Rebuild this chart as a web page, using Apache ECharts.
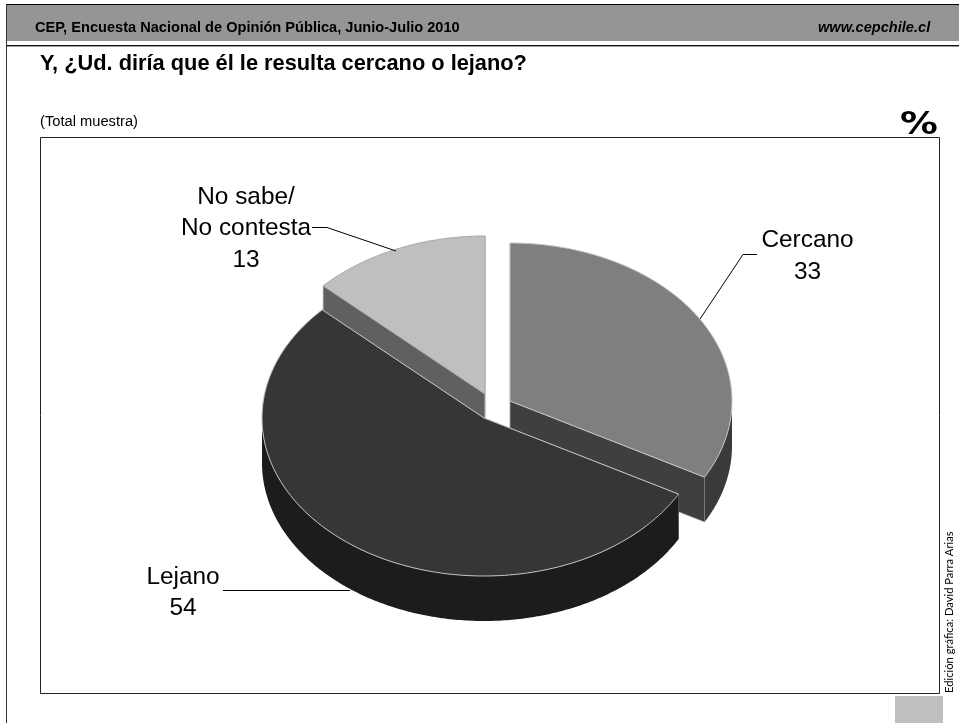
<!DOCTYPE html>
<html>
<head>
<meta charset="utf-8">
<style>html,body{margin:0;padding:0;background:#fff}#c{width:959px;height:723px}</style>
<script src="https://cdn.jsdelivr.net/npm/echarts@6/dist/echarts.min.js"></script>
</head>
<body>
<div id="c"></div>
<script>
const categories = ['Cercano', 'Lejano', 'No sabe/\nNo contesta'];
const values = [33, 54, 13];
const headerLeft = 'CEP, Encuesta Nacional de Opinión Pública, Junio-Julio 2010';
const headerRight = 'www.cepchile.cl';
const question = 'Y, ¿Ud. diría que él le resulta cercano o lejano?';
const sampleNote = '(Total muestra)';
const unitLabel = '%';
const credit = 'Edición gráfica: David Parra Arias';

// presentation settings, indexed like categories
const RX = 222, RY = 158, DEPTH = 45;
const centres = [[510, 401], [484, 418], [485, 394]];
const topColors = ['#7f7f7f', '#363636', '#bfbfbf'];
const wallColors = ['#3f3f3f', '#1c1c1c', '#606060'];
const edgeColors = ['#c4c4c4', '#c4c4c4', '#a8a8a8'];
const drawOrder = [1, 2, 0];            // No sabe behind, then Cercano, Lejano in front (z2 by index)
const labelPos = [[807.5, 256.5], [183, 593], [246, 228.5]];
const leaders = [
  [[757, 254.5], [743, 254.5], [700, 319]],
  [[223, 590.5], [350, 590.5]],
  [[312, 227.5], [327, 227.5], [396, 251]]
];
const FONT = '"Liberation Sans", Arial, sans-serif';

function rim(c, t, dy) {
  const r = t * Math.PI / 180;
  return [c[0] + RX * Math.sin(r), c[1] - RY * Math.cos(r) + (dy || 0)];
}
function arc(c, t0, t1, dy) {
  const pts = [], n = Math.max(2, Math.ceil((t1 - t0) * 1.5));
  for (let i = 0; i <= n; i++) pts.push(rim(c, t0 + (t1 - t0) * i / n, dy));
  return pts;
}

function renderSlice(params, api) {
  const i = params.dataIndex;
  const total = values.reduce((a, b) => a + b, 0);
  let before = 0;
  for (let k = 0; k < i; k++) before += values[k];
  const t0 = before / total * 360;
  const t1 = (before + api.value(0)) / total * 360;
  const c = centres[i];
  const z = drawOrder[i] * 10;
  const kids = [];
  // cut faces
  [t0, t1].forEach(function (t) {
    const p = rim(c, t);
    kids.push({
      type: 'polygon', z2: z,
      shape: { points: [c, p, [p[0], p[1] + DEPTH], [c[0], c[1] + DEPTH]] },
      style: { fill: wallColors[i], stroke: edgeColors[i], lineWidth: 0.6 }
    });
  });
  // outer wall (front half only)
  const a = Math.max(t0, 90), b = Math.min(t1, 270);
  if (b > a) {
    kids.push({
      type: 'polygon', z2: z + 1,
      shape: { points: arc(c, a, b, 0).concat(arc(c, a, b, DEPTH).reverse()) },
      style: { fill: i === 0 ? '#3a3a3a' : wallColors[i] }
    });
  }
  // top face
  kids.push({
    type: 'polygon', z2: z + 2,
    shape: { points: [c].concat(arc(c, t0, t1, 0)) },
    style: { fill: topColors[i], stroke: edgeColors[i], lineWidth: 1 }
  });
  // leader
  kids.push({
    type: 'polyline', z2: 40,
    shape: { points: leaders[i] },
    style: { fill: null, stroke: '#000', lineWidth: 1 }
  });
  // label
  kids.push({
    type: 'text', z2: 41,
    style: {
      text: categories[i] + '\n' + api.value(0),
      x: labelPos[i][0], y: labelPos[i][1],
      fill: '#000', font: '24.4px ' + FONT, align: 'center', verticalAlign: 'middle', lineHeight: 31.5
    }
  });
  return { type: 'group', children: kids };
}

function txt(x, y, text, font, extra, props) {
  return Object.assign({ type: 'text', x: x, y: y, silent: true,
    style: Object.assign({ text: text, font: font, fill: '#000', textVerticalAlign: 'middle' }, extra || {}) }, props || {});
}
function rect(x, y, w, h, fill) {
  return { type: 'rect', silent: true, shape: { x: x, y: y, width: w, height: h }, style: { fill: fill } };
}

const chart = echarts.init(document.getElementById('c'), null, { renderer: 'canvas', width: 959, height: 723 });
chart.setOption({
  animation: false,
  backgroundColor: '#fff',
  graphic: { elements: [
    rect(6, 4, 953, 1, '#000'),
    rect(6, 5, 953, 36, '#959595'),
    rect(6, 45, 953, 1, '#111'),
    rect(6, 46, 953, 1, '#999'),
    rect(6, 4, 1, 719, '#333'),
    { type: 'rect', silent: true, shape: { x: 40.5, y: 137.5, width: 899, height: 556 },
      style: { fill: 'none', stroke: '#222', lineWidth: 1 } },
    rect(895, 696, 48, 27, '#bfbfbf'),
    txt(35, 28, headerLeft, 'bold 14.6px ' + FONT),
    txt(818, 28, headerRight, 'italic bold 14.6px ' + FONT),
    txt(40, 63.5, question, 'bold 21.8px ' + FONT),
    txt(40, 122, sampleNote, '14.7px ' + FONT),
    txt(900, 126, unitLabel, 'bold 32px "DejaVu Sans"', null, { scaleX: 1.18 }),
    { type: 'text', silent: true, x: 949, y: 693, rotation: Math.PI / 2,
      style: { text: credit, font: '11.2px Lato', fill: '#000', textAlign: 'left', textVerticalAlign: 'middle' } }
  ] },
  series: [{
    type: 'custom',
    coordinateSystem: 'none',
    silent: true,
    renderItem: renderSlice,
    data: values.map(function (v, i) { return { name: categories[i], value: [v] }; })
  }]
});
</script>
</body>
</html>
